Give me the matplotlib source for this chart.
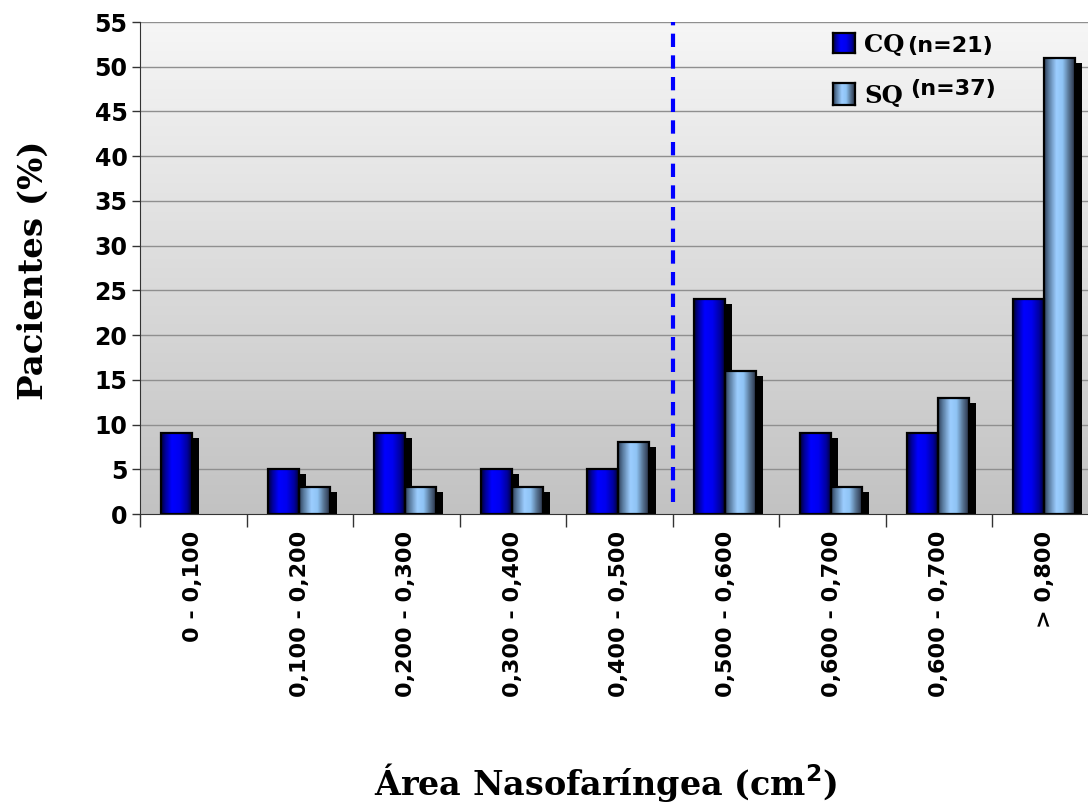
import numpy as np
import matplotlib
matplotlib.use("Agg")
import matplotlib.pyplot as plt
from matplotlib.colors import LinearSegmentedColormap
from matplotlib.patches import Rectangle

categories = ["0 - 0,100", "0,100 - 0,200", "0,200 - 0,300", "0,300 - 0,400",
              "0,400 - 0,500", "0,500 - 0,600", "0,600 - 0,700", "0,600 - 0,700",
              "> 0,800"]
cq_values = [9, 5, 9, 5, 5, 24, 9, 9, 24]
sq_values = [0, 3, 3, 3, 8, 16, 3, 13, 51]
series_names = ["CQ", "SQ"]
series_n = ["(n=21)", "(n=37)"]
yticks = list(range(0, 56, 5))
cutoff_position = 4.5
cutoff_range = (1.3, 55)

W, H = 1088, 808
fig = plt.figure(figsize=(W / 100, H / 100), dpi=100)
L, R, T, B = 140, 1098.5, 22, 514
ax = fig.add_axes([L / W, (H - B) / H, (R - L) / W, (B - T) / H])

# background gradient
bg = LinearSegmentedColormap.from_list("bg", ["#c2c2c2", "#f6f6f6"])
ax.imshow(np.linspace(0, 1, 256).reshape(-1, 1), cmap=bg, origin="lower",
          extent=[0, 1, 0, 1], transform=ax.transAxes, aspect="auto", zorder=0)

for yv in yticks[1:]:
    ax.axhline(yv, color="#8f8f8f", lw=1, zorder=1)

cq_cmap = LinearSegmentedColormap.from_list(
    "cq", [(0, "#00003a"), (0.15, "#0000a0"), (0.35, "#0000ff"), (0.6, "#0000f0"),
           (0.85, "#0000a0"), (1, "#000040")])
sq_cmap = LinearSegmentedColormap.from_list(
    "sq", [(0, "#2e3e58"), (0.15, "#5a7ca0"), (0.4, "#9ccdff"), (0.6, "#8fc4f5"),
           (0.8, "#5a7898"), (1, "#2a3448")])

bw = 0.29
off_cq = -0.30
off_sq = -0.01
sdx = 0.066
sdy = 0.55
grad = np.linspace(0, 1, 64).reshape(1, -1)

for i in range(len(categories)):
    for vals, off, cmap in ((cq_values, off_cq, cq_cmap), (sq_values, off_sq, sq_cmap)):
        v = vals[i]
        if v <= 0:
            continue
        x0 = i + off
        ax.add_patch(Rectangle((x0 + sdx, 0), bw, v - sdy, facecolor="black",
                               edgecolor="none", zorder=2))
for i in range(len(categories)):
    for vals, off, cmap in ((cq_values, off_cq, cq_cmap), (sq_values, off_sq, sq_cmap)):
        v = vals[i]
        if v <= 0:
            continue
        x0 = i + off
        ax.imshow(grad, cmap=cmap, extent=[x0, x0 + bw, 0, v], aspect="auto",
                  zorder=3, interpolation="bilinear")
        ax.add_patch(Rectangle((x0, 0), bw, v, facecolor="none", edgecolor="black",
                               lw=1.6, zorder=4))

ax.vlines(cutoff_position, cutoff_range[0], cutoff_range[1], colors="#0000ff",
          linestyles=(0, (3.2, 2.0)), lw=3, zorder=5)

ax.set_xlim(-0.5, len(categories) - 0.5)
ax.set_ylim(0, 55)
ax.set_yticks(yticks)
ax.set_yticklabels([str(t) for t in yticks], fontsize=17, fontweight="bold",
                   family="DejaVu Sans")
ax.set_xticks(np.arange(len(categories) + 1) - 0.5)
ax.set_xticklabels([])
ax.set_xticks(np.arange(len(categories)), minor=True)
ax.set_xticklabels(categories, minor=True, rotation=90, fontsize=16,
                   fontweight="bold", family="DejaVu Sans", va="top")
ax.tick_params(axis="x", which="major", length=9, width=1, color="#333333", direction="out")
ax.tick_params(axis="x", which="minor", length=0, pad=12)
ax.tick_params(axis="y", length=6, width=1, color="#333333", pad=3)
for s in ("top", "right"):
    ax.spines[s].set_visible(False)
ax.spines["left"].set_color("#333333")
ax.spines["bottom"].set_color("#333333")
ax.spines["left"].set_zorder(6)
ax.spines["bottom"].set_zorder(6)

fig.text(33 / W, 1 - 270 / H, "Pacientes (%)", rotation=90, ha="center", va="center",
         fontsize=24.5, fontweight="bold", family="DejaVu Serif")
fig.text(606 / W, 1 - 783 / H, "Área Nasofaríngea (cm$^\\mathbf{2}$)", ha="center",
         va="center", fontsize=24, fontweight="bold", family="DejaVu Serif")

# legend
leg_items = [(33, 53, cq_cmap, 52, 0), (83, 105, sq_cmap, 103, -8)]
for k, (ytop, ybot, cmap, base, rise) in enumerate(leg_items):
    ax_l = fig.add_axes([833 / W, 1 - ybot / H, 22 / W, (ybot - ytop) / H])
    ax_l.imshow(grad, cmap=cmap, aspect="auto", extent=[0, 1, 0, 1])
    ax_l.set_xticks([]); ax_l.set_yticks([])
    for s in ax_l.spines.values():
        s.set_linewidth(1.6)
    fig.text(864 / W, 1 - base / H, series_names[k], fontsize=17.5, fontweight="bold",
             family="DejaVu Serif", va="baseline")
    fig.text((907 if k == 0 else 910) / W, 1 - (base + rise) / H, series_n[k],
             fontsize=16, fontweight="bold", family="DejaVu Sans", va="baseline")

fig.savefig("out.png", dpi=100)
